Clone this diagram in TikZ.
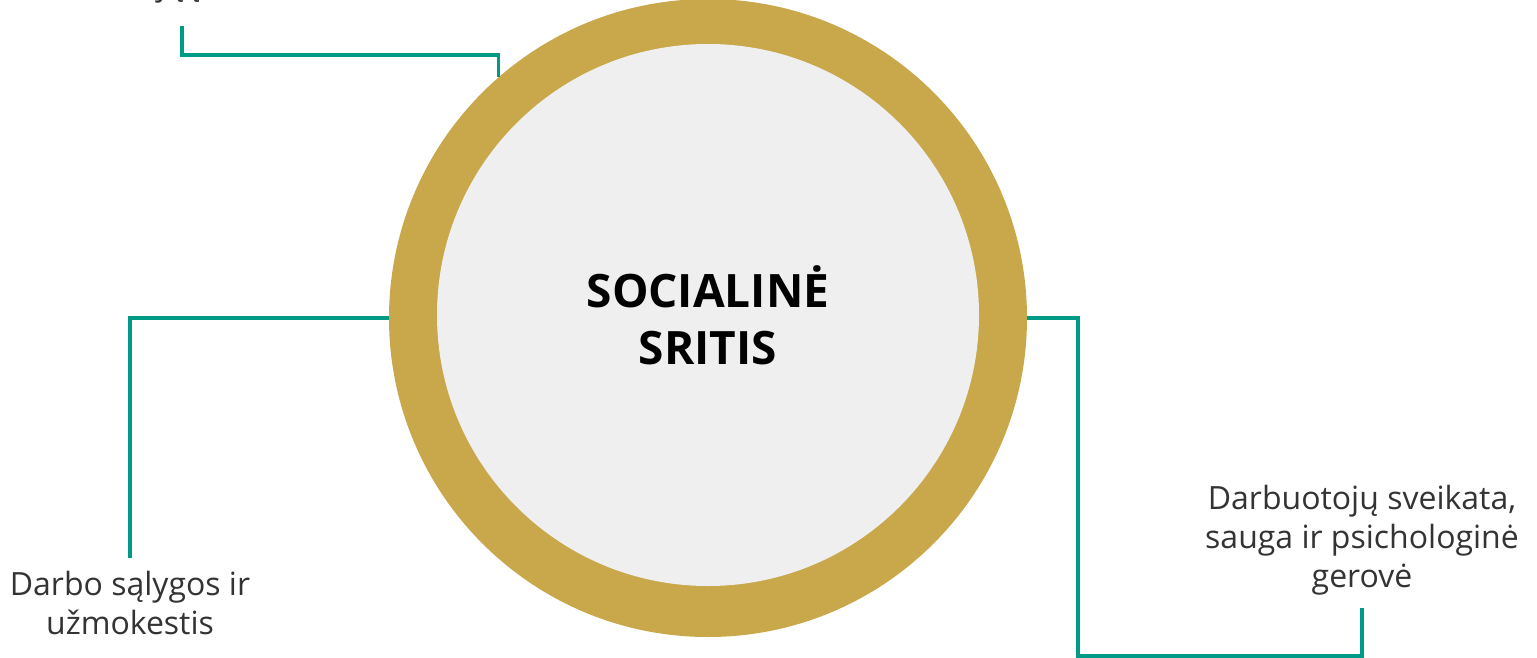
\documentclass[tikz,border=0pt]{standalone}
\usepackage{fontspec}
\setmainfont{Open Sans}
\usetikzlibrary{positioning, calc}
\definecolor{ringgold}{HTML}{C8A84B}
\definecolor{coregray}{HTML}{EFEFEF}
\definecolor{linkteal}{HTML}{009B86}
\definecolor{textgray}{HTML}{333333}
\tikzstyle{ring} = [circle, fill=ringgold, minimum size=638pt, inner sep=0pt]
\tikzstyle{core} = [circle, fill=coregray, minimum size=542pt, inner sep=0pt, align=center, text=black, font=\fontsize{46}{57}\selectfont\bfseries]
\tikzstyle{topic} = [align=center, text=textgray, inner sep=0pt, outer sep=13pt, font=\fontsize{32}{39}\selectfont]
\tikzstyle{link} = [draw=linkteal, line width=3.5pt]

\begin{document}
\begin{tikzpicture}[x=1pt, y=-1pt]
    \useasboundingbox (0,0) rectangle (1537,658);
    % centre circle
    \node (ring) [ring] at (708,318) {};
    \node (core) [core] at ([yshift=3pt]ring.center) {SOCIALINĖ\\SRITIS};

    % topics round the circle
    \node (involve) [topic, anchor=base, outer sep=0pt] at (182,-4) {Darbuotojų įtraukimas};
    \node (pay) [topic, anchor=north] at (130,558) {Darbo sąlygos ir\\užmokestis};
    \node (health) [topic, anchor=south] at (1362,608) {Darbuotojų sveikata,\\sauga ir psichologinė\\gerovė};
    \coordinate (turn) at (1078,656);

    % connectors
    \draw [link] (ring.131) -- ++(0,-22) -| ($(involve.south)+(0,22)$);
    \draw [link] (ring.west) -| (pay.north);
    \draw [link] (ring.east) -| (turn) -| (health.south);
\end{tikzpicture}
\end{document}
